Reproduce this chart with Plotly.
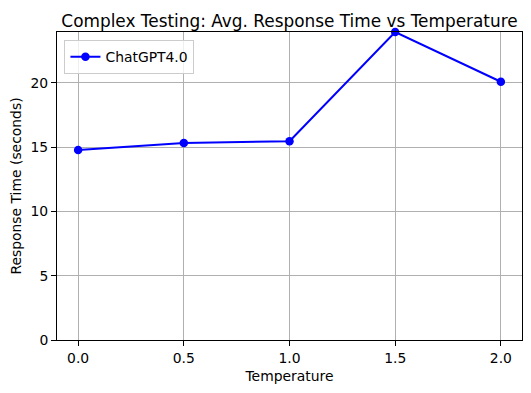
import plotly.graph_objects as go

temperatures = [0.0, 0.5, 1.0, 1.5, 2.0]
response_times = [14.78, 15.32, 15.46, 23.95, 20.08]
series_name = "ChatGPT4.0"
x_ticks = [0.0, 0.5, 1.0, 1.5, 2.0]
x_tick_labels = ["0.0", "0.5", "1.0", "1.5", "2.0"]
y_ticks = [0, 5, 10, 15, 20]

font = "DejaVu Sans"

# page body has an 8px default margin; size the figure so the plot area lands where intended
W, H = 523, 385

fig = go.Figure()
fig.add_trace(go.Scatter(
    x=temperatures, y=response_times, name=series_name,
    mode="lines+markers",
    line=dict(color="#0000ff", width=2),
    marker=dict(color="#0000ff", size=8.5),
    cliponaxis=False,
))

axis_common = dict(
    showline=True, linecolor="black", linewidth=1, mirror=True,
    ticks="outside", ticklen=5, tickwidth=1, tickcolor="black",
    showgrid=True, gridcolor="#b0b0b0", gridwidth=1,
    zeroline=False, automargin=False,
    tickfont=dict(family=font, size=13.9, color="black"),
)

fig.update_layout(
    width=W, height=H,
    margin=dict(l=49, r=9, t=24, b=53),
    paper_bgcolor="white", plot_bgcolor="white",
    font=dict(family=font, color="black"),
    title=dict(text="Complex Testing: Avg. Response Time vs Temperature",
               font=dict(family=font, size=16.9, color="black"),
               x=(49 + W - 9) / 2 / W, xanchor="center",
               y=1 - 19 / H, yanchor="bottom", automargin=False),
    xaxis=dict(axis_common, range=[-0.1, 2.1], tickvals=x_ticks, ticktext=x_tick_labels,
               title=dict(text="Temperature", font=dict(family=font, size=13.9), standoff=6)),
    yaxis=dict(axis_common, range=[0, 23.95], tickvals=y_ticks,
               title=dict(text="Response Time (seconds)", font=dict(family=font, size=13.9), standoff=6)),
    showlegend=True,
    legend=dict(x=0.016, y=0.973, xanchor="left", yanchor="top",
                bgcolor="rgba(255,255,255,0.8)", bordercolor="#cccccc", borderwidth=1,
                font=dict(family=font, size=13.9, color="black"),
                itemwidth=30),
)

fig.write_html("out.html")
